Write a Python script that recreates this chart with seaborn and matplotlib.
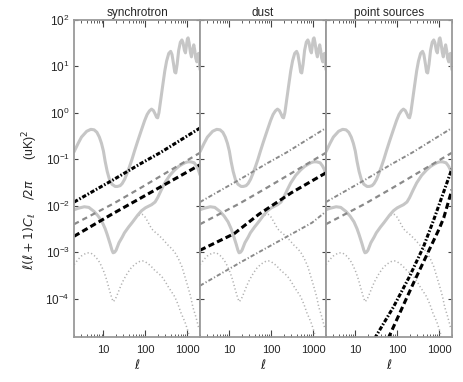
import matplotlib
matplotlib.use("Agg")
import matplotlib.pyplot as plt
import matplotlib.ticker as mticker
import numpy as np
import seaborn as sns

# CMB E-mode spectrum (light grey solid)
ell_ee = [2, 2.5, 3, 4, 5, 6, 7, 8, 9, 10, 11, 12.3, 14, 16, 19, 21.5, 25, 28, 32, 36,
          42, 48, 55, 65, 80, 96, 110, 125, 140, 155, 170, 185, 196, 210, 230, 260,
          290, 320, 360, 400, 430, 470, 500, 530, 570, 620, 680, 740, 790, 850, 900,
          950, 1000, 1040, 1100, 1180, 1250, 1320, 1420, 1500, 1580, 1680, 1780,
          1850, 1920, 2000]
ee_vals = [0.145, 0.22, 0.30, 0.40, 0.44, 0.43, 0.38, 0.30, 0.22, 0.15, 0.09, 0.055,
           0.036, 0.029, 0.026, 0.026, 0.027, 0.030, 0.037, 0.048, 0.07, 0.10, 0.15,
           0.24, 0.42, 0.68, 0.92, 1.1, 1.2, 1.12, 0.95, 0.8, 0.78, 1.0, 1.8, 4.0, 8.0,
           13, 19, 21, 18, 11, 7.5, 7.2, 11, 22, 33, 37, 32, 22, 19.5, 28, 39, 41, 32,
           20, 16, 22, 29, 22, 15, 12.5, 18, 19, 13, 8.5]

# B-mode total (tensor + lensing, light grey solid)
ell_bb = [2, 2.5, 3.5, 4.5, 6, 7.5, 9.3, 11, 12.3, 14.5, 16, 17, 18.5, 20, 23.5, 28,
          31.6, 40, 48, 65, 81, 100, 120, 140, 170, 196, 240, 290, 380, 500, 620, 750,
          900, 1030, 1200, 1450, 1650, 1800, 2000]
bb_vals = [0.0082, 0.0088, 0.0095, 0.0092, 0.0075, 0.006, 0.0045, 0.0032, 0.0024,
           0.0015, 0.0011, 0.00097, 0.001, 0.0011, 0.0016, 0.0021, 0.0026, 0.0035,
           0.0043, 0.0062, 0.0078, 0.009, 0.0098, 0.0105, 0.012, 0.0149, 0.022, 0.031,
           0.045, 0.059, 0.07, 0.078, 0.085, 0.088, 0.088, 0.084, 0.072, 0.062, 0.046]

# tensor-only B-modes (dotted), higher and lower r
ell_t1 = [2, 2.5, 3.5, 4.5, 6, 7.5, 9.3, 11, 12.3, 14.5, 16, 17, 18.5, 20, 23.5, 28,
          31.6, 40, 48, 56, 65, 75, 85, 97, 110, 125, 140, 170, 200, 260, 350, 420,
          500, 600, 740, 870, 1030, 1200, 1350, 1600, 1900]
t1_vals = [0.0082, 0.0088, 0.0095, 0.0092, 0.0075, 0.006, 0.0045, 0.0032, 0.0024,
           0.0015, 0.0011, 0.00097, 0.001, 0.0011, 0.0016, 0.0021, 0.0026, 0.0035,
           0.0043, 0.0052, 0.006, 0.0064, 0.0065, 0.0058, 0.0048, 0.0039, 0.0032,
           0.0027, 0.0024, 0.0019, 0.0014, 0.0012, 0.001, 7.5e-4, 4.9e-4, 3e-4,
           1.8e-4, 1.1e-4, 6.6e-5, 4e-5, 2.2e-5]
ell_t2 = [2, 2.5, 3, 4, 5, 6, 7.5, 9, 10.5, 12, 14, 15.5, 17, 19, 22, 26, 30, 37, 45,
          55, 65, 75, 85, 100, 120, 145, 170, 205, 245, 300, 350, 420, 500, 600, 700,
          800, 880, 1000, 1150]
t2_vals = [5.4e-4, 7e-4, 8.3e-4, 9.7e-4, 9.6e-4, 8.5e-4, 6.8e-4, 5e-4, 3.6e-4,
           2.5e-4, 1.5e-4, 1.1e-4, 8.6e-5, 9.5e-5, 1.3e-4, 1.9e-4, 2.5e-4, 3.5e-4,
           4.5e-4, 5.4e-4, 6e-4, 6.4e-4, 6.5e-4, 6.2e-4, 5.5e-4, 4.7e-4, 4e-4, 3.5e-4,
           3e-4, 2.3e-4, 1.8e-4, 1.4e-4, 1.1e-4, 7.5e-5, 5e-5, 3.8e-5, 3.1e-5, 2.2e-5,
           1.4e-5]

# foreground levels
ell_sync = [2, 17, 76, 230, 2000]
sync_vals = [0.012, 0.036, 0.08, 0.14, 0.47]
ell_gdash = [2, 17, 76, 2000]
gdash_vals = [0.004, 0.011, 0.024, 0.138]
ell_sync_lo = [2, 17, 76, 2000]
sync_lo_vals = [0.0022, 0.0068, 0.0145, 0.076]
ell_dust = [2, 13, 50, 300, 2000]
dust_vals = [0.0011, 0.0025, 0.0065, 0.019, 0.051]
ell_dust_lo = [2, 20, 930, 2000]
dust_lo_vals = [1.9e-4, 6.3e-4, 0.0043, 0.0075]
ell_ps_hi = [29, 81, 196, 420, 740, 2000]
ps_hi_vals = [1.4e-5, 6.6e-5, 3.0e-4, 1.3e-3, 0.005, 0.062]
ell_ps_lo = [61, 245, 1000, 1280, 2000]
ps_lo_vals = [1.4e-5, 2.2e-4, 0.0032, 0.0055, 0.022]

titles = ["synchrotron", "dust", "point sources"]
x_ticks = [10, 100, 1000]
x_ticklabels = ["10", "100", "1000"]
y_ticks = [1e-4, 1e-3, 1e-2, 1e-1, 1e0, 1e1, 1e2]

sns.set_theme(style="ticks")
plt.rcParams["font.family"] = ["Liberation Sans", "DejaVu Sans"]
plt.rcParams["mathtext.fontset"] = "dejavusans"

LIGHT = "#c6c6c6"
DOT = "#b0b0b0"
GREY = "#8a8a8a"
ls_dot = (0, (0.8, 1.6))
ls_gdash = (0, (2.4, 1.8))
ls_gdd = (0, (2.2, 1.1, 0.6, 1.1))
ls_kdd = (0, (1.4, 0.6, 0.5, 0.6))
ls_kdash = (0, (2.0, 1.1))


def draw(ax, xs, ys, **kw):
    sns.lineplot(x=xs, y=ys, ax=ax, estimator=None, **kw)


fig = plt.figure(figsize=(4.63, 3.82), dpi=100)
axes = fig.subplots(1, 3, sharey=True)
fig.subplots_adjust(left=0.160, right=0.976, top=0.948, bottom=0.118, wspace=0)

for i, ax in enumerate(axes):
    ax.set_xscale("log")
    ax.set_yscale("log")
    # CMB curves
    draw(ax, ell_t2, t2_vals, color=DOT, lw=1.1, linestyle=ls_dot)
    draw(ax, ell_t1, t1_vals, color=DOT, lw=1.1, linestyle=ls_dot)
    draw(ax, ell_ee, ee_vals, color=LIGHT, lw=2.2)
    draw(ax, ell_bb, bb_vals, color=LIGHT, lw=2.2)

    if i == 0:
        draw(ax, ell_gdash, gdash_vals, color=GREY, lw=1.6, linestyle=ls_gdash)
        draw(ax, ell_sync_lo, sync_lo_vals, color="black", lw=2.2, linestyle=ls_kdash)
        draw(ax, ell_sync, sync_vals, color="black", lw=2.2, linestyle=ls_kdd)
    elif i == 1:
        draw(ax, ell_sync, sync_vals, color=GREY, lw=1.4, linestyle=ls_gdd)
        draw(ax, ell_gdash, gdash_vals, color=GREY, lw=1.6, linestyle=ls_gdash)
        draw(ax, ell_dust_lo, dust_lo_vals, color=GREY, lw=1.4, linestyle=ls_gdd)
        draw(ax, ell_dust, dust_vals, color="black", lw=2.2, linestyle=ls_kdash)
    else:
        draw(ax, ell_sync, sync_vals, color=GREY, lw=1.4, linestyle=ls_gdd)
        draw(ax, ell_gdash, gdash_vals, color=GREY, lw=1.6, linestyle=ls_gdash)
        draw(ax, ell_ps_lo, ps_lo_vals, color="black", lw=2.2, linestyle=ls_kdash)
        draw(ax, ell_ps_hi, ps_hi_vals, color="black", lw=2.2, linestyle=ls_kdd)

    ax.set_xlim(2, 2000)
    ax.set_ylim(1.5e-5, 100)
    ax.set_title(titles[i], fontsize=8.5, pad=3)
    ax.set_xlabel(r"$\ell$", fontsize=9, labelpad=2)
    ax.set_ylabel("")

    ax.xaxis.set_major_locator(mticker.FixedLocator(x_ticks))
    ax.xaxis.set_major_formatter(mticker.FixedFormatter(x_ticklabels))
    ax.xaxis.set_minor_locator(mticker.LogLocator(base=10, subs=np.arange(2, 10), numticks=20))
    ax.xaxis.set_minor_formatter(mticker.NullFormatter())
    ax.yaxis.set_major_locator(mticker.FixedLocator(y_ticks))
    ax.yaxis.set_major_formatter(mticker.LogFormatterSciNotation())
    ax.yaxis.set_minor_locator(mticker.NullLocator())

    ax.tick_params(axis="x", which="major", direction="in", top=True, length=5,
                   width=0.8, color="#444444", labelsize=8, pad=6)
    ax.tick_params(axis="x", which="minor", direction="in", top=True, length=2.5,
                   width=0.6, color="#444444")
    ax.tick_params(axis="y", which="major", direction="in", right=True, left=True,
                   length=3, width=0.8, color="#444444", labelsize=8.5, pad=3)
    if i > 0:
        ax.tick_params(axis="y", labelleft=False)
    for sp in ax.spines.values():
        sp.set_color("#9a9a9a")
        sp.set_linewidth(1.3)

fig.text(0.066, 1 - 200 / 382,
         r"$\ell(\ell+1)C_\ell$    $/2\pi$      (uK)$^2$",
         rotation=90, ha="center", va="center", fontsize=9)

fig.savefig("out.png", dpi=100)
